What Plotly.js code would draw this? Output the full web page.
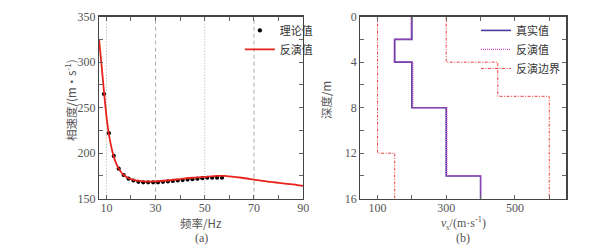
<!DOCTYPE html>
<html>
<head>
<meta charset="utf-8">
<script src="https://cdn.plot.ly/plotly-3.0.1.min.js"></script>
<style>html,body{margin:0;padding:0;background:#fff;}#chart{width:615px;height:245px;}</style>
</head>
<body>
<div id="chart"></div>
<script>
// ---- Panel (a): dispersion curve ----
var theoFreq = [9, 11, 13, 15, 17, 19, 21, 23, 25, 27, 29, 31, 33, 35, 37, 39, 41, 43, 45, 47, 49, 51, 53, 55, 57];
var theoVel  = [265, 222, 197, 183, 176, 172, 170, 168.5, 168, 168, 168, 168, 168.5, 169, 169.5, 170, 170.5, 171, 171.5, 172, 172.5, 173, 173, 173, 173];
var invFreq  = [7, 8, 9, 10, 11, 12, 13, 14, 15, 16, 17, 18, 19, 20, 22, 25, 30, 35, 40, 45, 50, 55, 58, 60, 65, 70, 75, 80, 85, 90];
var invVel   = [325, 298, 268, 241, 221, 207, 196, 188.5, 183, 179, 176, 174, 172.5, 171.5, 170, 169, 169, 170, 171.5, 173, 174, 175, 175, 174.5, 173, 171, 169, 167.5, 166, 164];
var xTicksA  = [10, 20, 30, 40, 50, 60, 70, 80, 90];
var xTextA   = ['10', '', '30', '', '50', '', '70', '', '90'];
var yTicksA  = [150, 175, 200, 225, 250, 275, 300, 325, 350];
var yTextA   = ['150', '', '200', '', '250', '', '300', '', '350'];
var gridA    = [10, 30, 50, 70];

// ---- Panel (b): shear-wave velocity profile ----
var layerTop   = [0, 2, 4, 8, 14];
var layerBot   = [2, 4, 8, 14, 16];
var trueVs     = [200, 150, 200, 300, 400];
var invVs      = [197, 148, 203, 302, 400];
var lowTop     = [0, 12];
var lowBot     = [12, 16];
var lowVs      = [100, 150];
var upTop      = [0, 4, 7];
var upBot      = [4, 7, 16];
var upVs       = [300, 450, 600];
var xTicksB    = [100, 200, 300, 400, 500, 600];
var xTextB     = ['100', '', '300', '', '500', ''];
var yTicksB    = [0, 2, 4, 6, 8, 10, 12, 14, 16];
var yTextB     = ['0', '', '4', '', '8', '', '12', '', '16'];

function steps(tops, bots, vals) {
  var x = [], y = [];
  for (var i = 0; i < vals.length; i++) {
    x.push(vals[i], vals[i]);
    y.push(tops[i], bots[i]);
  }
  return {x: x, y: y};
}
var sTrue = steps(layerTop, layerBot, trueVs);
var sInv  = steps(layerTop, layerBot, invVs);
var sLow  = steps(lowTop, lowBot, lowVs);
var sUp   = steps(upTop, upBot, upVs);

var cjk = '"Noto Sans CJK SC", "Liberation Serif", serif';
var serif = '"Liberation Serif", "DejaVu Serif", serif';
var grey = '#555';
var dashDot = '3px,1.5px,1px,1.5px';

var traces = [
  {x: theoFreq, y: theoVel, type: 'scatter', mode: 'markers', name: '理论值',
   marker: {color: '#000', size: 4.2}, xaxis: 'x', yaxis: 'y', legend: 'legend'},
  {x: invFreq, y: invVel, type: 'scatter', mode: 'lines', name: '反演值',
   line: {color: '#e8231d', width: 1.8, shape: 'spline', smoothing: 0.6}, xaxis: 'x', yaxis: 'y', legend: 'legend'},
  {x: sTrue.x, y: sTrue.y, type: 'scatter', mode: 'lines', name: '真实值',
   line: {color: '#4a3a9e', width: 1.6}, xaxis: 'x2', yaxis: 'y2', legend: 'legend2'},
  {x: sInv.x, y: sInv.y, type: 'scatter', mode: 'lines', name: '反演值',
   line: {color: '#d248c8', width: 1.2, dash: '1px,1px'}, xaxis: 'x2', yaxis: 'y2', legend: 'legend2'},
  {x: sLow.x, y: sLow.y, type: 'scatter', mode: 'lines', name: '反演边界',
   line: {color: '#e8413a', width: 1, dash: dashDot}, xaxis: 'x2', yaxis: 'y2', legend: 'legend2'},
  {x: sUp.x, y: sUp.y, type: 'scatter', mode: 'lines', name: '反演边界', showlegend: false,
   line: {color: '#e8413a', width: 1, dash: dashDot}, xaxis: 'x2', yaxis: 'y2', legend: 'legend2'}
];

var shapes = gridA.map(function (f, i) {
  return {type: 'line', xref: 'x', yref: 'y', x0: f, x1: f, y0: 150, y1: 350,
          line: {color: '#aaa', width: 1, dash: (i % 2 === 0) ? '1px,2px' : '4px,3px'}, layer: 'below'};
});

var axisCommon = {
  showgrid: false, zeroline: false, showline: true, linecolor: '#444', linewidth: 1.2,
  mirror: 'allticks', ticks: 'inside', ticklen: 4, tickcolor: '#666',
  tickfont: {family: serif, size: 12, color: grey}
};

var layout = {
  width: 615, height: 245,
  margin: {l: 0, r: 0, t: 0, b: 0},
  paper_bgcolor: '#fff', plot_bgcolor: '#fff',
  showlegend: true,
  xaxis: Object.assign({}, axisCommon, {domain: [0.161, 0.493], range: [7, 90], tickvals: xTicksA, ticktext: xTextA, anchor: 'y', ticklabelstandoff: -2}),
  yaxis: Object.assign({}, axisCommon, {domain: [0.189, 0.932], range: [150, 350], tickvals: yTicksA, ticktext: yTextA, anchor: 'x'}),
  xaxis2: Object.assign({}, axisCommon, {domain: [0.586, 0.921], range: [50, 650], tickvals: xTicksB, ticktext: xTextB, anchor: 'y2', ticklabelstandoff: -2}),
  yaxis2: Object.assign({}, axisCommon, {domain: [0.189, 0.932], range: [16, 0], tickvals: yTicksB, ticktext: yTextB, anchor: 'x2'}),
  legend: {x: 0.39, y: 0.935, xanchor: 'left', yanchor: 'top', bgcolor: 'rgba(0,0,0,0)',
           font: {family: cjk, size: 11, color: '#333'}, itemwidth: 30, tracegroupgap: 0},
  legend2: {x: 0.774, y: 0.935, xanchor: 'left', yanchor: 'top', bgcolor: 'rgba(0,0,0,0)',
           font: {family: cjk, size: 11, color: '#333'}, itemwidth: 30, tracegroupgap: 0},
  shapes: shapes,
  annotations: [
    {xref: 'paper', yref: 'paper', x: 0.327, y: 1 - 223 / 245, text: '频率/Hz', showarrow: false,
     font: {family: cjk, size: 11.5, color: grey}, xanchor: 'center', yanchor: 'middle'},
    {xref: 'paper', yref: 'paper', x: 0.327, y: 1 - 238 / 245, text: '(a)', showarrow: false,
     font: {family: serif, size: 12, color: grey}, xanchor: 'center', yanchor: 'middle'},
    {xref: 'paper', yref: 'paper', x: 70 / 615, y: 1 - 100 / 245, text: '相速度/(m·s<sup>-1</sup>)', showarrow: false, textangle: -90,
     font: {family: cjk, size: 11.5, color: grey}, xanchor: 'center', yanchor: 'middle'},
    {xref: 'paper', yref: 'paper', x: 0.753, y: 1 - 223 / 245, text: '<i>v</i><sub>s</sub>/(m·s<sup>-1</sup>)', showarrow: false,
     font: {family: serif, size: 12, color: grey}, xanchor: 'center', yanchor: 'middle'},
    {xref: 'paper', yref: 'paper', x: 0.753, y: 1 - 238 / 245, text: '(b)', showarrow: false,
     font: {family: serif, size: 12, color: grey}, xanchor: 'center', yanchor: 'middle'},
    {xref: 'paper', yref: 'paper', x: 326 / 615, y: 1 - 100 / 245, text: '深度/m', showarrow: false, textangle: -90,
     font: {family: cjk, size: 11.5, color: grey}, xanchor: 'center', yanchor: 'middle'}
  ]
};

Plotly.newPlot('chart', traces, layout, {displayModeBar: false, staticPlot: true});
</script>
</body>
</html>
